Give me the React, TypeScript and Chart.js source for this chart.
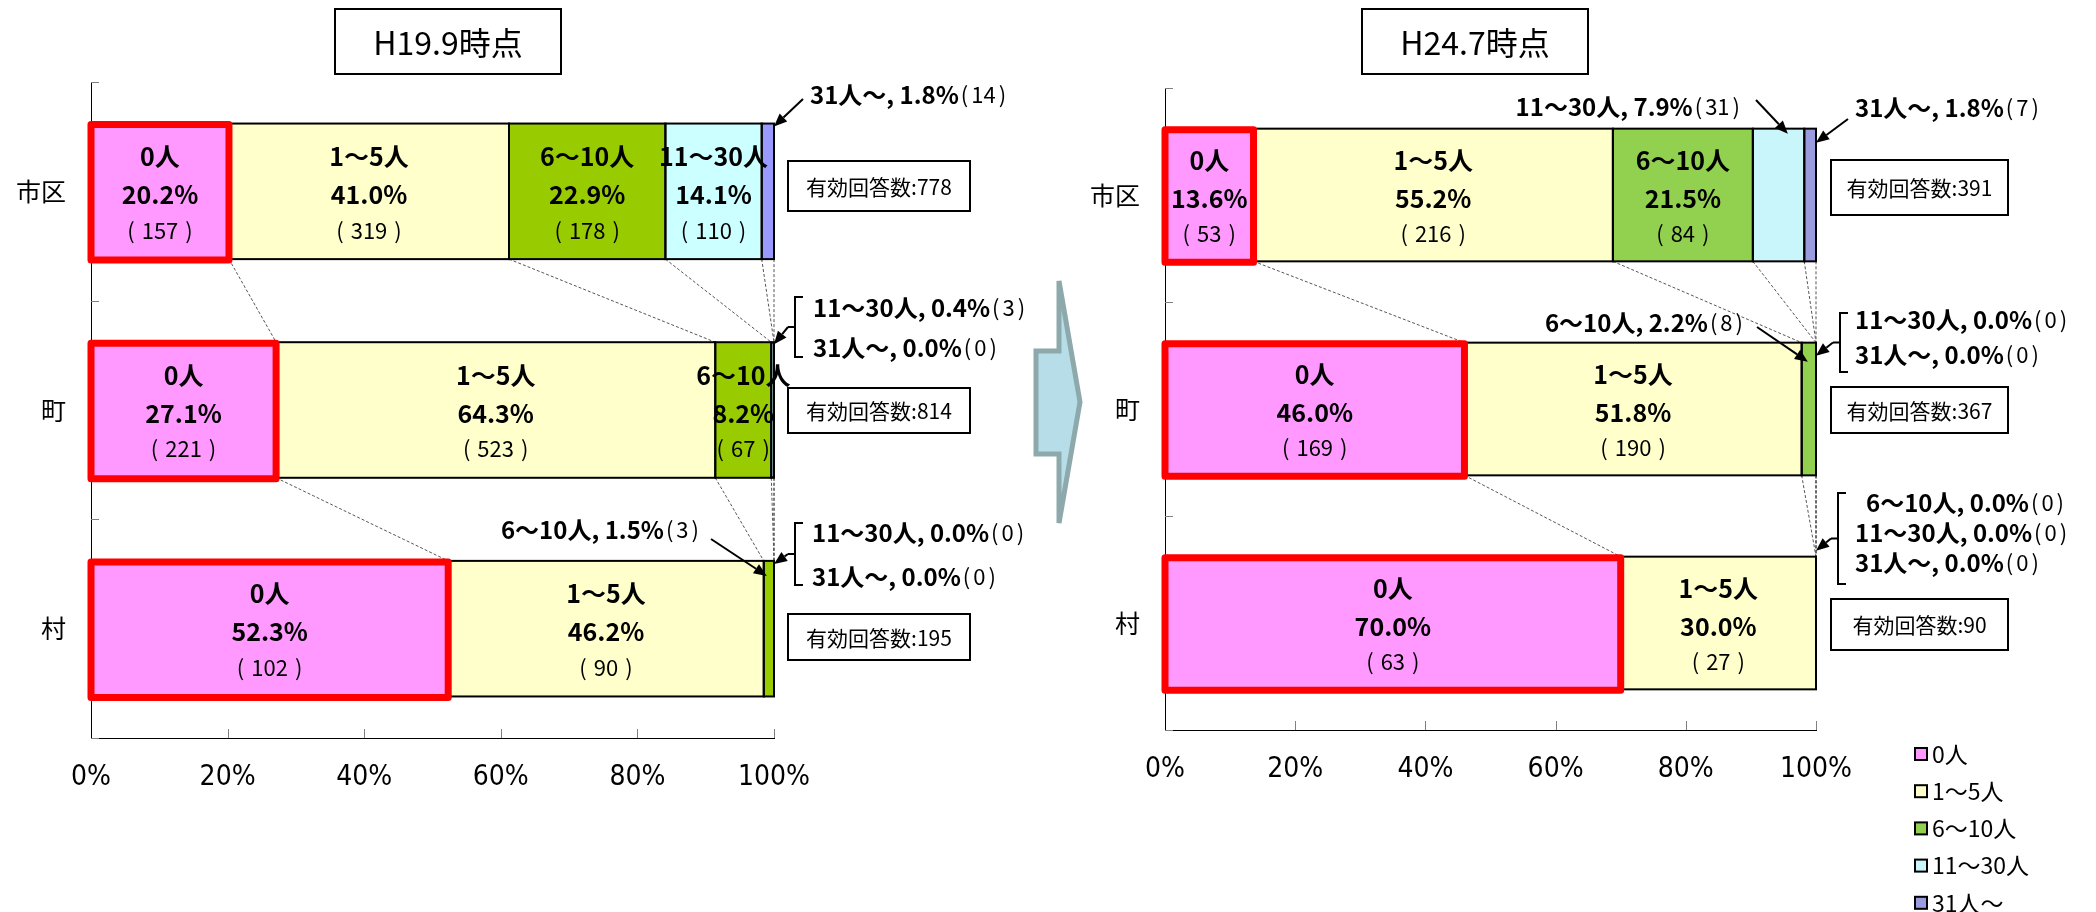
import React, { useEffect, useRef } from 'react';
import { Chart, registerables } from 'chart.js';

Chart.register(...registerables);

const W = 2096;
const H = 912;
const FONT = "'Noto Sans CJK JP', 'Noto Sans', sans-serif";
const AXIS_FONT = "'Liberation Sans Narrow', 'DejaVu Sans Condensed', 'Noto Sans CJK JP', sans-serif";

// ---- data ----
const categories = ['市区', '町', '村'];
const seriesNames = ['0人', '1～5人', '6～10人', '11～30人', '31人～'];
const xTickValues = [0, 20, 40, 60, 80, 100];

// H19.9: share (%) per category 市区 / 町 / 村
const h19Zero = [20.2, 27.1, 52.3];
const h19OneToFive = [41.0, 64.3, 46.2];
const h19SixToTen = [22.9, 8.2, 1.5];
const h19ElevenToThirty = [14.1, 0.4, 0.0];
const h19ThirtyOnePlus = [1.8, 0.0, 0.0];
// H19.9: number of answers
const h19ZeroN = [157, 221, 102];
const h19OneToFiveN = [319, 523, 90];
const h19SixToTenN = [178, 67, 3];
const h19ElevenToThirtyN = [110, 3, 0];
const h19ThirtyOnePlusN = [14, 0, 0];
const h19Valid = [778, 814, 195];

// H24.7: share (%) per category 市区 / 町 / 村
const h24Zero = [13.6, 46.0, 70.0];
const h24OneToFive = [55.2, 51.8, 30.0];
const h24SixToTen = [21.5, 2.2, 0.0];
const h24ElevenToThirty = [7.9, 0.0, 0.0];
const h24ThirtyOnePlus = [1.8, 0.0, 0.0];
// H24.7: number of answers
const h24ZeroN = [53, 169, 63];
const h24OneToFiveN = [216, 190, 27];
const h24SixToTenN = [84, 8, 0];
const h24ElevenToThirtyN = [31, 0, 0];
const h24ThirtyOnePlusN = [7, 0, 0];
const h24Valid = [391, 367, 90];

// ---- layout ----
type Callout = {
  cat: number;
  series: number[];
  lines: [number, number][];
  align: 'left' | 'right';
  from?: [number, number];
  bracket?: { x: number; top: number; bottom: number };
  tipSeries: number;
  tipFrac: number;
  tipDy: number;
};

type PanelCfg = {
  title: string;
  pct: number[][];
  counts: number[][];
  valid: number[];
  colors: string[];
  area: { left: number; right: number; top: number; bottom: number };
  titleBox: [number, number, number, number];
  validBoxes: [number, number, number, number][];
  callouts: Callout[];
  legend?: { x: number; y: number; gap: number };
  bigArrow?: boolean;
};

const Y_AXIS_W = 80;
const X_AXIS_H = 60;

const leftPanel: PanelCfg = {
  title: 'H19.9時点',
  pct: [h19Zero, h19OneToFive, h19SixToTen, h19ElevenToThirty, h19ThirtyOnePlus],
  counts: [h19ZeroN, h19OneToFiveN, h19SixToTenN, h19ElevenToThirtyN, h19ThirtyOnePlusN],
  valid: h19Valid,
  colors: ['#FF99FF', '#FFFFCC', '#99CC00', '#CCFFFF', '#9999FF'],
  area: { left: 91, right: 774, top: 82, bottom: 738 },
  titleBox: [335, 9, 226, 65],
  validBoxes: [
    [788, 161, 182, 50],
    [788, 388, 182, 45],
    [788, 614, 182, 46],
  ],
  callouts: [
    { cat: 0, series: [4], lines: [[810, 95]], align: 'left', from: [803, 99], tipSeries: 4, tipFrac: 1, tipDy: 3 },
    { cat: 1, series: [3, 4], lines: [[813, 308], [813, 348]], align: 'left', bracket: { x: 795, top: 297, bottom: 357 }, tipSeries: 4, tipFrac: 1, tipDy: 2 },
    { cat: 2, series: [2], lines: [[699, 530]], align: 'right', from: [711, 539], tipSeries: 2, tipFrac: 0.3, tipDy: 15 },
    { cat: 2, series: [3, 4], lines: [[812, 533], [812, 577]], align: 'left', bracket: { x: 795, top: 523, bottom: 585 }, tipSeries: 4, tipFrac: 1, tipDy: 3 },
  ],
};

const rightPanel: PanelCfg = {
  title: 'H24.7時点',
  pct: [h24Zero, h24OneToFive, h24SixToTen, h24ElevenToThirty, h24ThirtyOnePlus],
  counts: [h24ZeroN, h24OneToFiveN, h24SixToTenN, h24ElevenToThirtyN, h24ThirtyOnePlusN],
  valid: h24Valid,
  colors: ['#FF99FF', '#FFFFCC', '#92D050', '#C9F6FA', '#9B9BE0'],
  area: { left: 1165, right: 1816, top: 88, bottom: 730 },
  titleBox: [1362, 9, 226, 65],
  validBoxes: [
    [1831, 160, 177, 55],
    [1831, 387, 177, 46],
    [1831, 599, 177, 51],
  ],
  callouts: [
    { cat: 0, series: [3], lines: [[1740, 107]], align: 'right', from: [1756, 100], tipSeries: 3, tipFrac: 0.68, tipDy: 5 },
    { cat: 0, series: [4], lines: [[1855, 108]], align: 'left', from: [1848, 119], tipSeries: 4, tipFrac: 1, tipDy: 14 },
    { cat: 1, series: [2], lines: [[1743, 323]], align: 'right', from: [1757, 327], tipSeries: 2, tipFrac: 0.43, tipDy: 19 },
    { cat: 1, series: [3, 4], lines: [[1855, 320], [1855, 355]], align: 'left', bracket: { x: 1840, top: 313, bottom: 372 }, tipSeries: 4, tipFrac: 1, tipDy: 13 },
    { cat: 2, series: [2, 3, 4], lines: [[1866, 503], [1855, 533], [1855, 563]], align: 'left', bracket: { x: 1838, top: 493, bottom: 584 }, tipSeries: 4, tipFrac: 1, tipDy: -6 },
  ],
  legend: { x: 1915, y: 754, gap: 37.2 },
  bigArrow: true,
};

// ---- drawing helpers ----
function drawArrow(ctx: CanvasRenderingContext2D, from: [number, number], to: [number, number]) {
  const [x0, y0] = from;
  const [x1, y1] = to;
  const ang = Math.atan2(y1 - y0, x1 - x0);
  const len = 13;
  const half = 5.5;
  const bx = x1 - Math.cos(ang) * len;
  const by = y1 - Math.sin(ang) * len;
  ctx.save();
  ctx.strokeStyle = '#000';
  ctx.fillStyle = '#000';
  ctx.lineWidth = 2;
  ctx.beginPath();
  ctx.moveTo(x0, y0);
  ctx.lineTo(bx, by);
  ctx.stroke();
  ctx.beginPath();
  ctx.moveTo(x1, y1);
  ctx.lineTo(bx + Math.sin(ang) * half, by - Math.cos(ang) * half);
  ctx.lineTo(bx - Math.sin(ang) * half, by + Math.cos(ang) * half);
  ctx.closePath();
  ctx.fill();
  ctx.restore();
}

// "(n)" with airy parentheses
function countWidth(ctx: CanvasRenderingContext2D, n: number, gap: number) {
  const pw = ctx.measureText('(').width;
  const dw = ctx.measureText(String(n)).width;
  return { pw, dw, total: pw * 2 + dw + gap * 2 };
}

function drawCount(
  ctx: CanvasRenderingContext2D,
  n: number,
  x: number,
  y: number,
  mode: 'left' | 'center',
  gap: number,
) {
  const { pw, dw, total } = countWidth(ctx, n, gap);
  const x0 = mode === 'left' ? x : x - total / 2;
  ctx.save();
  ctx.textAlign = 'left';
  ctx.fillText('(', x0, y);
  ctx.fillText(String(n), x0 + pw + gap, y);
  ctx.fillText(')', x0 + pw + gap + dw + gap, y);
  ctx.restore();
  return total;
}

function decorPlugin(p: PanelCfg) {
  return {
    id: 'decor',
    afterDatasetsDraw(chart: any) {
      const ctx: CanvasRenderingContext2D = chart.ctx;
      const metas = p.pct.map((_, s) => chart.getDatasetMeta(s).data);

      // series lines between neighbouring bars
      ctx.save();
      ctx.strokeStyle = '#555';
      ctx.lineWidth = 1;
      ctx.setLineDash([3, 2]);
      for (let s = 0; s < metas.length; s++) {
        for (let i = 0; i < categories.length - 1; i++) {
          const a = metas[s][i];
          const b = metas[s][i + 1];
          ctx.beginPath();
          ctx.moveTo(a.x, a.y + a.height / 2);
          ctx.lineTo(b.x, b.y - b.height / 2);
          ctx.stroke();
        }
      }
      ctx.restore();

      // segment outlines
      ctx.save();
      ctx.strokeStyle = '#000';
      ctx.lineWidth = 2;
      for (let s = 1; s < metas.length; s++) {
        metas[s].forEach((el: any, i: number) => {
          if (p.pct[s][i] <= 0) return;
          const x0 = Math.min(el.base, el.x);
          ctx.strokeRect(x0, el.y - el.height / 2, Math.abs(el.x - el.base), el.height);
        });
      }
      ctx.strokeStyle = '#FF0000';
      ctx.lineWidth = 7;
      ctx.lineJoin = 'round';
      metas[0].forEach((el: any) => {
        const x0 = Math.min(el.base, el.x);
        ctx.strokeRect(x0, el.y - el.height / 2 + 1, Math.abs(el.x - el.base), el.height);
      });
      ctx.restore();

      // labels inside the wider segments
      ctx.save();
      ctx.fillStyle = '#000';
      ctx.textAlign = 'center';
      ctx.textBaseline = 'middle';
      for (let s = 0; s < metas.length; s++) {
        metas[s].forEach((el: any, i: number) => {
          const v = p.pct[s][i];
          if (v < 8) return;
          const cx = (el.x + el.base) / 2;
          const cy = el.y;
          ctx.font = `bold 25px ${FONT}`;
          ctx.fillText(seriesNames[s], cx, cy - 35);
          ctx.fillText(`${v.toFixed(1)}%`, cx, cy + 3);
          ctx.font = `22px ${FONT}`;
          drawCount(ctx, p.counts[s][i], cx, cy + 39, 'center', 7);
        });
      }
      ctx.restore();
    },
    afterDraw(chart: any) {
      const ctx: CanvasRenderingContext2D = chart.ctx;
      const xs = chart.scales.x;
      const ys = chart.scales.y;
      const ca = chart.chartArea;
      const metas = p.pct.map((_, s) => chart.getDatasetMeta(s).data);

      // inward tick marks
      ctx.save();
      ctx.strokeStyle = '#808080';
      ctx.lineWidth = 1;
      const n = categories.length;
      const step = n > 1 ? ys.getPixelForValue(1) - ys.getPixelForValue(0) : ca.bottom - ca.top;
      for (let k = 0; k <= n; k++) {
        const yy = Math.round(ys.getPixelForValue(0) - step / 2 + k * step) + 0.5;
        ctx.beginPath();
        ctx.moveTo(ca.left, yy);
        ctx.lineTo(ca.left + 8, yy);
        ctx.stroke();
      }
      xTickValues.slice(1).forEach((v) => {
        const xx = Math.round(xs.getPixelForValue(v)) + 0.5;
        ctx.beginPath();
        ctx.moveTo(xx, ca.bottom);
        ctx.lineTo(xx, ca.bottom - 9);
        ctx.stroke();
      });
      ctx.restore();

      // title box
      ctx.save();
      const [tx, ty, tw, th] = p.titleBox;
      ctx.fillStyle = '#fff';
      ctx.fillRect(tx, ty, tw, th);
      ctx.strokeStyle = '#000';
      ctx.lineWidth = 2;
      ctx.strokeRect(tx, ty, tw, th);
      ctx.fillStyle = '#000';
      ctx.font = `32px ${FONT}`;
      ctx.textAlign = 'center';
      ctx.textBaseline = 'middle';
      ctx.fillText(p.title, tx + tw / 2, ty + th / 2 + 1);

      // valid answers boxes
      ctx.font = `21px ${FONT}`;
      p.validBoxes.forEach(([bx, by, bw, bh], i) => {
        ctx.fillStyle = '#fff';
        ctx.fillRect(bx, by, bw, bh);
        ctx.strokeRect(bx, by, bw, bh);
        ctx.fillStyle = '#000';
        ctx.fillText(`有効回答数:${p.valid[i]}`, bx + bw / 2, by + bh / 2 + 1);
      });
      ctx.restore();

      // callouts for narrow segments
      ctx.save();
      ctx.fillStyle = '#000';
      ctx.strokeStyle = '#000';
      ctx.textBaseline = 'middle';
      ctx.textAlign = 'left';
      p.callouts.forEach((c) => {
        c.series.forEach((s, k) => {
          const [lx, ly] = c.lines[k];
          const boldText = `${seriesNames[s]}, ${p.pct[s][c.cat].toFixed(1)}%`;
          ctx.font = `bold 24px ${FONT}`;
          const wb = ctx.measureText(boldText).width;
          ctx.font = `22px ${FONT}`;
          const wn = countWidth(ctx, p.counts[s][c.cat], 3).total + 2;
          const x0 = c.align === 'left' ? lx : lx - wb - wn;
          ctx.font = `bold 24px ${FONT}`;
          ctx.fillText(boldText, x0, ly);
          ctx.font = `22px ${FONT}`;
          drawCount(ctx, p.counts[s][c.cat], x0 + wb + 2, ly, 'left', 3);
        });
        let from = c.from;
        if (c.bracket) {
          const { x, top, bottom } = c.bracket;
          const mid = (top + bottom) / 2;
          ctx.lineWidth = 2;
          ctx.beginPath();
          ctx.moveTo(x + 8, top);
          ctx.lineTo(x, top);
          ctx.lineTo(x, bottom);
          ctx.lineTo(x + 8, bottom);
          ctx.moveTo(x, mid);
          ctx.lineTo(x - 7, mid);
          ctx.stroke();
          from = [x - 7, mid];
        }
        let start = 0;
        for (let s = 0; s < c.tipSeries; s++) start += p.pct[s][c.cat];
        const val = p.pct[c.tipSeries][c.cat];
        const el = metas[c.tipSeries][c.cat];
        const tipX = xs.getPixelForValue(Math.min(100, start + c.tipFrac * val));
        const tipY = el.y - el.height / 2 + c.tipDy;
        if (from) drawArrow(ctx, from, [tipX, tipY]);
      });
      ctx.restore();

      // legend
      if (p.legend) {
        const { x, y, gap } = p.legend;
        ctx.save();
        ctx.textAlign = 'left';
        ctx.textBaseline = 'middle';
        ctx.font = `23px ${FONT}`;
        seriesNames.forEach((name, s) => {
          const cy = y + s * gap;
          ctx.fillStyle = p.colors[s];
          ctx.fillRect(x, cy - 6, 12, 12);
          ctx.strokeStyle = '#000';
          ctx.lineWidth = 2;
          ctx.strokeRect(x, cy - 6, 12, 12);
          ctx.fillStyle = '#000';
          ctx.fillText(name, x + 17, cy);
        });
        ctx.restore();
      }

      // transition arrow between the two periods
      if (p.bigArrow) {
        ctx.save();
        ctx.beginPath();
        ctx.moveTo(1036, 351);
        ctx.lineTo(1059, 351);
        ctx.lineTo(1059, 281);
        ctx.lineTo(1080, 402);
        ctx.lineTo(1059, 523);
        ctx.lineTo(1059, 454);
        ctx.lineTo(1036, 454);
        ctx.closePath();
        ctx.fillStyle = '#B7DEE8';
        ctx.fill();
        ctx.strokeStyle = '#8DA9AB';
        ctx.lineWidth = 5;
        ctx.lineJoin = 'miter';
        ctx.stroke();
        ctx.restore();
      }
    },
  };
}

function buildConfig(p: PanelCfg): any {
  const a = p.area;
  return {
    type: 'bar',
    data: {
      labels: categories,
      datasets: seriesNames.map((name, s) => ({
        label: name,
        data: p.pct[s],
        backgroundColor: p.colors[s],
        borderWidth: 0,
        barPercentage: 0.62,
        categoryPercentage: 1,
      })),
    },
    options: {
      indexAxis: 'y',
      responsive: false,
      animation: false,
      events: [],
      layout: {
        padding: {
          left: a.left - Y_AXIS_W,
          right: W - a.right,
          top: a.top,
          bottom: H - a.bottom - X_AXIS_H,
        },
      },
      plugins: {
        legend: { display: false },
        tooltip: { enabled: false },
        title: { display: false },
      },
      scales: {
        x: {
          type: 'linear',
          stacked: true,
          min: 0,
          max: 100,
          afterFit: (s: any) => {
            s.height = X_AXIS_H;
          },
          afterBuildTicks: (s: any) => {
            s.ticks = xTickValues.map((v) => ({ value: v }));
          },
          ticks: {
            callback: (v: any) => `${v}%`,
            color: '#000',
            font: { family: AXIS_FONT, size: 28 },
            padding: 23,
            maxRotation: 0,
          },
          grid: { display: false, drawTicks: false },
          border: { display: true, color: '#000', width: 1 },
        },
        y: {
          stacked: true,
          afterFit: (s: any) => {
            s.width = Y_AXIS_W;
          },
          ticks: {
            color: '#000',
            font: { family: FONT, size: 25 },
            padding: 25,
            autoSkip: false,
          },
          grid: { display: false, drawTicks: false },
          border: { display: true, color: '#000', width: 1 },
        },
      },
    },
    plugins: [decorPlugin(p)],
  };
}

function PanelChart({ cfg }: { cfg: PanelCfg }) {
  const ref = useRef<HTMLCanvasElement | null>(null);
  useEffect(() => {
    if (!ref.current) return;
    const chart = new Chart(ref.current, buildConfig(cfg));
    return () => chart.destroy();
  }, [cfg]);
  return (
    <canvas
      ref={ref}
      width={W}
      height={H}
      style={{ position: 'absolute', left: 0, top: 0, width: W, height: H }}
    />
  );
}

export default function App() {
  return (
    <div
      style={{
        position: 'absolute',
        left: 0,
        top: 0,
        width: W,
        height: H,
        background: '#fff',
        overflow: 'hidden',
      }}
    >
      <PanelChart cfg={leftPanel} />
      <PanelChart cfg={rightPanel} />
    </div>
  );
}
